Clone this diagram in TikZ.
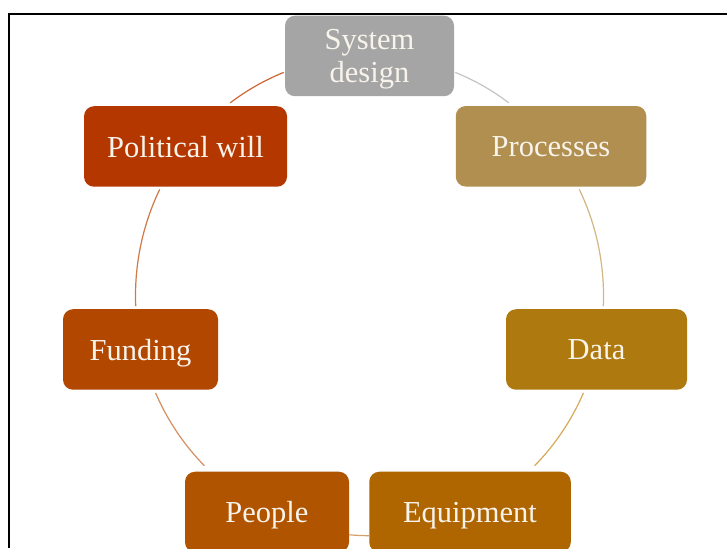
\documentclass[tikz,border=0pt]{standalone}
\usepackage{fontspec}
\setmainfont{Liberation Serif}
\definecolor{cSD}{HTML}{A5A5A5}
\definecolor{cProc}{HTML}{B08F50}
\definecolor{cData}{HTML}{AE790E}
\definecolor{cEquip}{HTML}{AF6500}
\definecolor{cPeople}{HTML}{B05400}
\definecolor{cFund}{HTML}{B24700}
\definecolor{cPW}{HTML}{B53700}
\definecolor{cText}{HTML}{F8F4EC}
\definecolor{aSD}{HTML}{C4C4C4}
\definecolor{aProc}{HTML}{D2B683}
\definecolor{aData}{HTML}{D8A85A}
\definecolor{aEquip}{HTML}{D4A06A}
\definecolor{aPeople}{HTML}{D49060}
\definecolor{aFund}{HTML}{D07848}
\definecolor{aPW}{HTML}{CF6535}
\tikzset{
  cyclebox/.style={rounded corners=10pt, minimum height=80.5pt, inner sep=0pt,
    align=center, text=cText, text depth=0pt,
    font=\fontsize{30.5}{33.5}\selectfont},
  cyclearc/.style={line width=1.2pt}
}
\begin{document}
\begin{tikzpicture}[x=1pt,y=1pt]
\clip (0,0) rectangle (727,548);
\fill[white] (0,0) rectangle (727,548);
\draw[line width=2.6pt] (9,0) -- (9,534) -- (727,534);
\node[cyclebox, fill=cSD, minimum width=169pt] (sd) at (369.5,492) {System\\design};
\node[cyclebox, fill=cProc, minimum width=190.5pt] (proc) at (551,401.7) {Processes};
\node[cyclebox, fill=cData, minimum width=181pt] (data) at (596.5,198.5) {Data};
\node[cyclebox, fill=cEquip, minimum width=201.5pt] (equip) at (470,36) {Equipment};
\node[cyclebox, fill=cPeople, minimum width=164pt] (people) at (267,36) {People};
\node[cyclebox, fill=cFund, minimum width=155pt] (fund) at (140.5,198.5) {Funding};
\node[cyclebox, fill=cPW, minimum width=203pt] (pw) at (185.5,401.5) {Political will};
\coordinate (ctr) at (369.5,252.3);
\coordinate (sdproc) at ([shift={(68.5:234pt and 240pt)}]ctr);
\coordinate (procdata) at ([shift={(26.3:234pt and 240pt)}]ctr);
\coordinate (dataequip) at ([shift={(-23.9:234pt and 240pt)}]ctr);
\coordinate (equippeople) at ([shift={(-89.9:234pt and 240pt)}]ctr);
\coordinate (peoplefund) at ([shift={(225.1:234pt and 240pt)}]ctr);
\coordinate (fundpw) at ([shift={(182.5:234pt and 240pt)}]ctr);
\coordinate (pwsd) at ([shift={(126.5:234pt and 240pt)}]ctr);
\draw[cyclearc, draw=aSD] (sdproc) arc[start angle=68.5, end angle=53.5, x radius=234pt, y radius=240pt];
\draw[cyclearc, draw=aProc] (procdata) arc[start angle=26.3, end angle=-2.5, x radius=234pt, y radius=240pt];
\draw[cyclearc, draw=aData] (dataequip) arc[start angle=-23.9, end angle=-45.1, x radius=234pt, y radius=240pt];
\draw[cyclearc, draw=aEquip] (equippeople) arc[start angle=-89.9, end angle=-95, x radius=234pt, y radius=240pt];
\draw[cyclearc, draw=aPeople] (peoplefund) arc[start angle=225.1, end angle=203.9, x radius=234pt, y radius=240pt];
\draw[cyclearc, draw=aFund] (fundpw) arc[start angle=182.5, end angle=153.7, x radius=234pt, y radius=240pt];
\draw[cyclearc, draw=aPW] (pwsd) arc[start angle=126.5, end angle=111.5, x radius=234pt, y radius=240pt];
\end{tikzpicture}
\end{document}
